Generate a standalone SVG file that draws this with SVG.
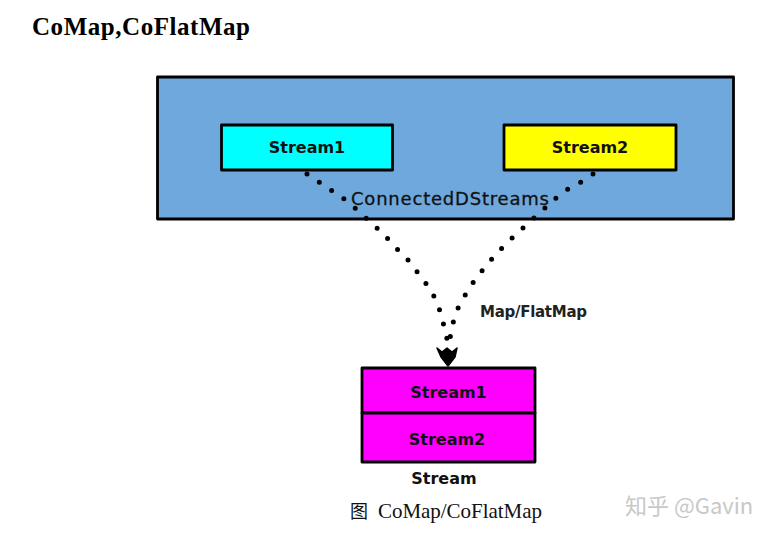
<svg xmlns="http://www.w3.org/2000/svg" width="778" height="536" viewBox="0 0 778 536">
<style>
.box{stroke:#000;stroke-width:2.8;stroke-linejoin:round}
.lbl{font-family:"DejaVu Sans",Verdana,sans-serif;font-weight:bold;font-size:16px;fill:#111;text-anchor:middle}
.dots{fill:none;stroke:#000;stroke-width:5;stroke-linecap:round;stroke-dasharray:0 14.8}
</style>
<rect width="778" height="536" fill="#fff"/>
<text x="32" y="35" font-family="'Liberation Serif','Times New Roman',serif" font-weight="bold" font-size="25" textLength="218">CoMap,CoFlatMap</text>
<g id="connectedDStreams">
<rect class="box" x="157.5" y="77" width="576" height="142" fill="#6fa8dc"/>
</g>
<g id="stream1">
<rect class="box" x="221.5" y="125" width="171" height="45" fill="#00ffff"/>
<text class="lbl" x="307" y="153">Stream1</text>
</g>
<g id="stream2">
<rect class="box" x="504" y="125" width="172" height="45" fill="#ffff00"/>
<text class="lbl" x="590" y="153">Stream2</text>
</g>
<g id="connectors">
<path class="dots" d="M307,174 L319,182 L331,190 L343,198 L355,208 L366,218 L377,228 L388,239 L398,250 L409,261 L418,273 L427,285 L435,298 L440,311 L444,326 L447,339"/>
<path class="dots" d="M593,174 L581,182 L568,189 L556,198 L545,208 L534,218 L523,228 L511,239 L501,249 L491,260 L481,272 L472,284 L464,297 L457,310 L453,323 L450,338"/>
<path d="M437,348 L442,352 L447,348 L452,352 L457,348 L455,357 L448,366 L441,357 Z" fill="#000" stroke="#000" stroke-width="1.5" stroke-linejoin="round"/>
</g>
<text x="450" y="205" font-family="'DejaVu Sans',Verdana,sans-serif" font-size="18" fill="#111" stroke="#111" stroke-width="0.3" text-anchor="middle" textLength="198">ConnectedDStreams</text>
<text x="480" y="317" font-family="'DejaVu Sans',Verdana,sans-serif" font-weight="bold" font-size="15" fill="#222" textLength="107">Map/FlatMap</text>
<g id="stream">
<rect class="box" x="362" y="368" width="173" height="45" fill="#ff00ff"/>
<rect class="box" x="362" y="413" width="173" height="49" fill="#ff00ff"/>
<text class="lbl" x="448.5" y="398">Stream1</text>
<text class="lbl" x="447" y="445">Stream2</text>
<text class="lbl" x="444" y="484">Stream</text>
</g>
<text x="350" y="518" font-family="'Noto Sans CJK SC','Liberation Serif',serif" font-size="18" fill="#111">图</text>
<text x="378" y="518" font-family="'Liberation Serif','Times New Roman',serif" font-size="21" fill="#111" textLength="164">CoMap/CoFlatMap</text>
<text x="625" y="514" font-family="'Noto Sans CJK SC','Liberation Sans',sans-serif" font-size="22" fill="#c8c8c8">知乎 @Gavin</text>
</svg>
